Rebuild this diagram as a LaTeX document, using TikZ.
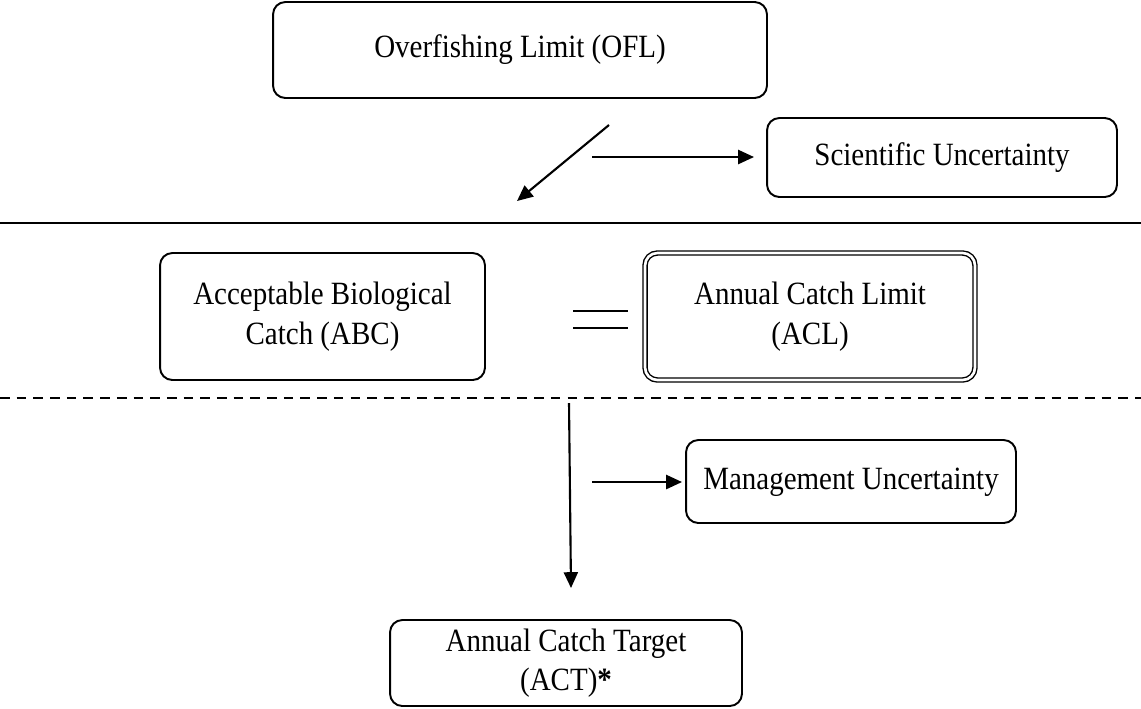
\documentclass[tikz,border=0pt]{standalone}
\usepackage{fontspec}
\usepackage{graphicx}
\setmainfont{Liberation Serif}
\usetikzlibrary{arrows.meta}
% text set slightly taller than wide
\newcommand{\tallText}[1]{\scalebox{1}[1.12]{\begin{tabular}{@{}c@{}}#1\end{tabular}}}
\begin{document}
\begin{tikzpicture}[x=0.02cm,y=-0.02cm,
  box/.style={draw, line width=1.1pt, rounded corners=7pt, align=center,
    inner sep=0pt, font=\fontsize{16.5}{20}\selectfont},
  dblbox/.style={box, double, line width=0.8pt, double distance=1.5pt},
  flow/.style={line width=1.2pt, -{Triangle[length=9pt,width=8pt]}},
  divider/.style={line width=1.1pt}]
\useasboundingbox (0,0) rectangle (1141,708);

% boxes
\node[box, minimum width=9.88cm, minimum height=1.92cm] (ofl) at (520,50) {\tallText{Overfishing Limit (OFL)}};
\node[box, minimum width=7cm, minimum height=1.58cm] (sci) at (942,157.5) {\tallText{Scientific Uncertainty}};
\node[box, minimum width=6.5cm, minimum height=2.54cm] (abc) at (322.5,316.5) {\tallText{Acceptable Biological\\Catch (ABC)}};
\node[dblbox, minimum width=6.6cm, minimum height=2.54cm] (acl) at (810,316.5) {\raisebox{4pt}{\tallText{Annual Catch Limit\\(ACL)}}};
\node[box, minimum width=6.6cm, minimum height=1.66cm] (mgmt) at (851,481.5) {\tallText{Management Uncertainty}};
\node[box, minimum width=7.04cm, minimum height=1.72cm] (act) at (566,663) {\raisebox{3pt}{\tallText{Annual Catch Target\\(ACT)\textbf{*}}}};

% arrow end points
\coordinate (d1) at (609,125);
\coordinate (d2) at (517,201);
\coordinate (s1) at (592,157);
\coordinate (s2) at (754,157);
\coordinate (v1) at (569,403);
\coordinate (v2) at (571,588);
\coordinate (m1) at (592,482);
\coordinate (m2) at (682,482);

% separators
\coordinate (l1) at (0,223);
\coordinate (l2) at (1141,223);
\coordinate (k1) at (0,398);
\coordinate (k2) at (1141,398);
\draw[divider] (l1) -- (l2);
\draw[divider, dash pattern=on 5.5pt off 4pt] (k1) -- (k2);

% equals sign
\coordinate (e1) at (573,311);
\coordinate (e2) at (628,311);
\coordinate (e3) at (573,328);
\coordinate (e4) at (628,328);
\draw[divider] (e1) -- (e2);
\draw[divider] (e3) -- (e4);

% arrows
\draw[flow] (d1) -- (d2);
\draw[flow] (s1) -- (s2);
\draw[flow] (v1) -- (v2);
\draw[flow] (m1) -- (m2);
\end{tikzpicture}
\end{document}
